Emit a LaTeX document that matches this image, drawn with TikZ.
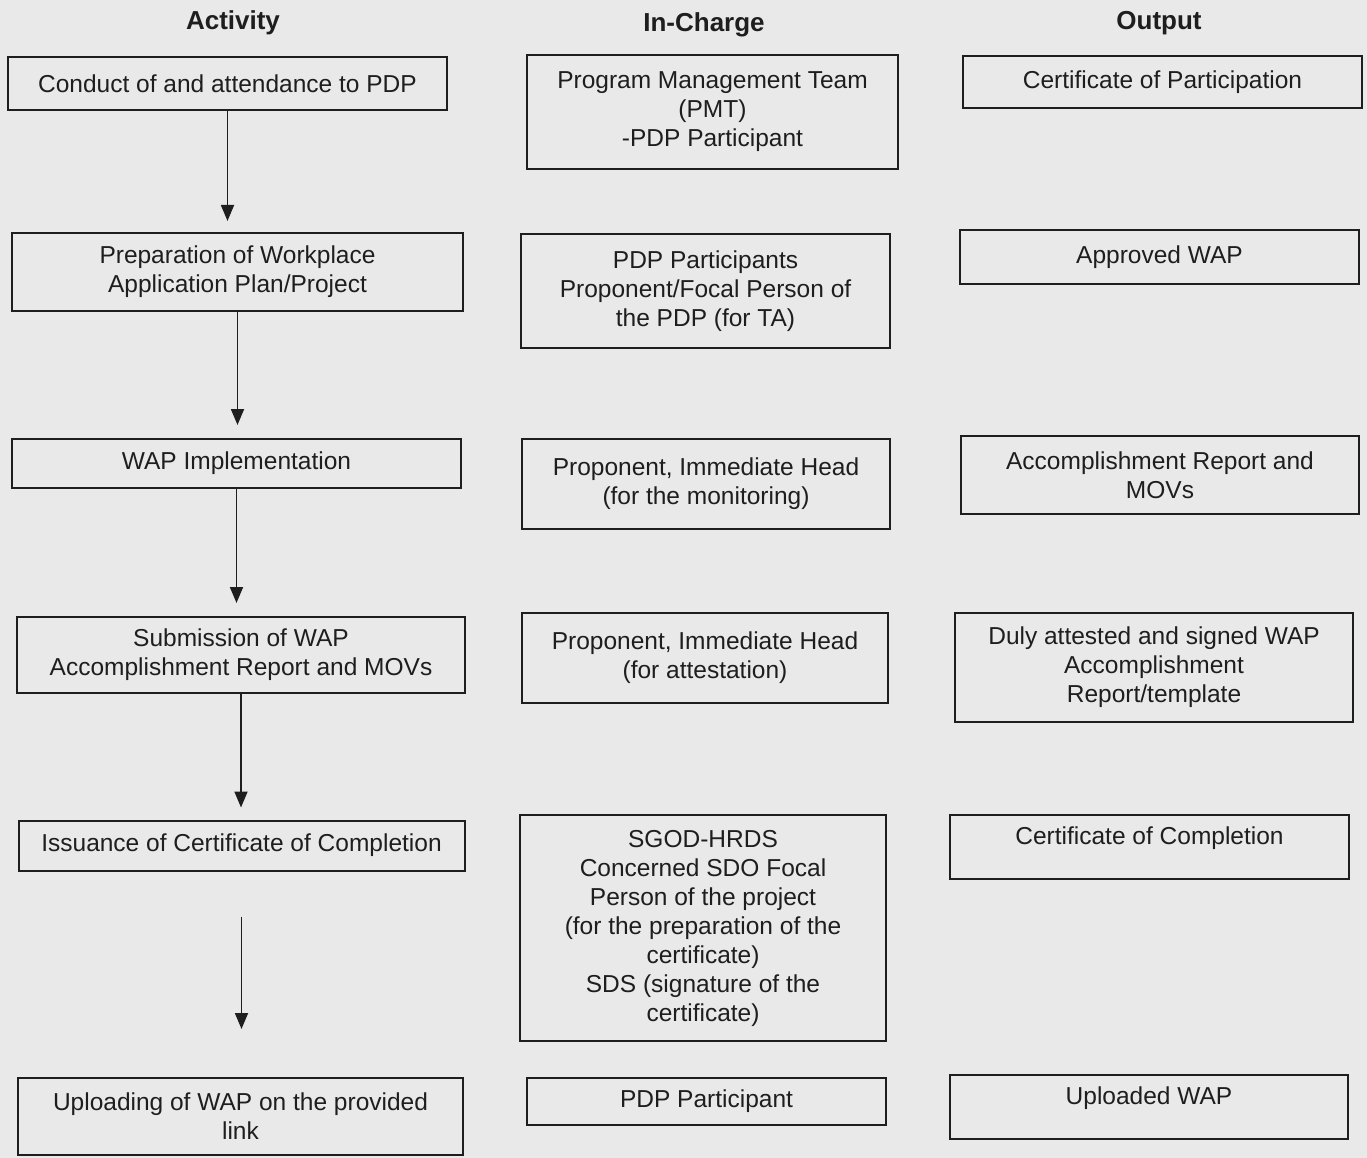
\documentclass[tikz,border=0pt]{standalone}
\usepackage{fontspec}
\setmainfont{Liberation Sans}
\usetikzlibrary{arrows.meta}
\definecolor{paper}{RGB}{233,233,233}
\definecolor{ink}{RGB}{30,30,30}

\begin{document}
\begin{tikzpicture}[x=1pt,y=1pt,yscale=-1,
  box/.style={draw=ink, line width=2pt, text=ink, align=center, inner sep=0pt, font=\fontsize{24.5}{29}\selectfont},
  uptext/.style={text height=18pt, text depth=23pt},
  head/.style={text=ink, font=\fontsize{26}{30}\selectfont\bfseries},
  flow/.style={draw=ink, line width=1.8pt, -{Triangle[length=16pt,width=13pt]}}]
%set diagram size 1367 x 1158
\fill[paper] (0,0) rectangle (1367,1158);
\useasboundingbox (0,0) rectangle (1367,1158);

% Headings
\node[head] (hAct) at (233,23) {Activity};
\node[head] (hChg) at (704,25) {In-Charge};
\node[head] (hOut) at (1159,23) {Output};

% Activity column
\node[box, minimum width=439pt, minimum height=53pt] (act1) at (227.5,83.5) {Conduct of and attendance to PDP};
\node[box, minimum width=451pt, minimum height=78pt] (act2) at (237.5,272) {Preparation of Workplace\\Application Plan/Project};
\node[box, minimum width=449pt, minimum height=49pt] (act3) at (236.5,463.5) {WAP Implementation};
\node[box, minimum width=448pt, minimum height=76pt] (act4) at (241,655) {Submission of WAP\\Accomplishment Report and MOVs};
\node[box, minimum width=446pt, minimum height=50pt] (act5) at (241.5,845.5) {Issuance of Certificate of Completion};
\node[box, minimum width=445pt, minimum height=77pt] (act6) at (240.5,1116.5) {Uploading of WAP on the provided\\link};

% In-Charge column
\node[box, minimum width=371pt, minimum height=114pt] (chg1) at (712.5,112) {Program Management Team\\(PMT)\\-PDP Participant};
\node[box, minimum width=369pt, minimum height=114pt] (chg2) at (705.5,291) {PDP Participants\\Proponent/Focal Person of\\the PDP (for TA)};
\node[box, minimum width=368pt, minimum height=90pt] (chg3) at (706,484) {Proponent, Immediate Head\\(for the monitoring)};
\node[box, minimum width=366pt, minimum height=90pt] (chg4) at (705,658) {Proponent, Immediate Head\\(for attestation)};
\node[box, minimum width=366pt, minimum height=226pt] (chg5) at (703,928) {SGOD-HRDS\\Concerned SDO Focal\\Person of the project\\(for the preparation of the\\certificate)\\SDS (signature of the\\certificate)};
\node[box, minimum width=359pt, minimum height=47pt] (chg6) at (706.5,1101.5) {PDP Participant};

% Output column
\node[box, minimum width=399pt, minimum height=52pt] (out1) at (1162.5,82) {Certificate of Participation};
\node[box, minimum width=399pt, minimum height=54pt] (out2) at (1159.5,257) {Approved WAP};
\node[box, minimum width=398pt, minimum height=78pt] (out3) at (1160,475) {Accomplishment Report and\\MOVs};
\node[box, minimum width=398pt, minimum height=109pt] (out4) at (1154,667.5) {Duly attested and signed WAP\\Accomplishment\\Report/template};
\node[box, uptext, minimum width=399pt, minimum height=64pt] (out5) at (1149.5,847) {Certificate of Completion};
\node[box, uptext, minimum width=398pt, minimum height=64pt] (out6) at (1149,1107) {Uploaded WAP};

% Flow arrows
\draw[flow, shorten >=11pt] (act1) -- (act1 |- act2.north);
\draw[flow, shorten >=13pt] (act2) -- (act2 |- act3.north);
\draw[flow, shorten >=13pt] (act3) -- (act3 |- act4.north);
\draw[flow, shorten >=12pt] (act4) -- (act4 |- act5.north);
\draw[flow, shorten <=45pt, shorten >=48pt] (act5) -- (act5 |- act6.north);

\end{tikzpicture}
\end{document}
